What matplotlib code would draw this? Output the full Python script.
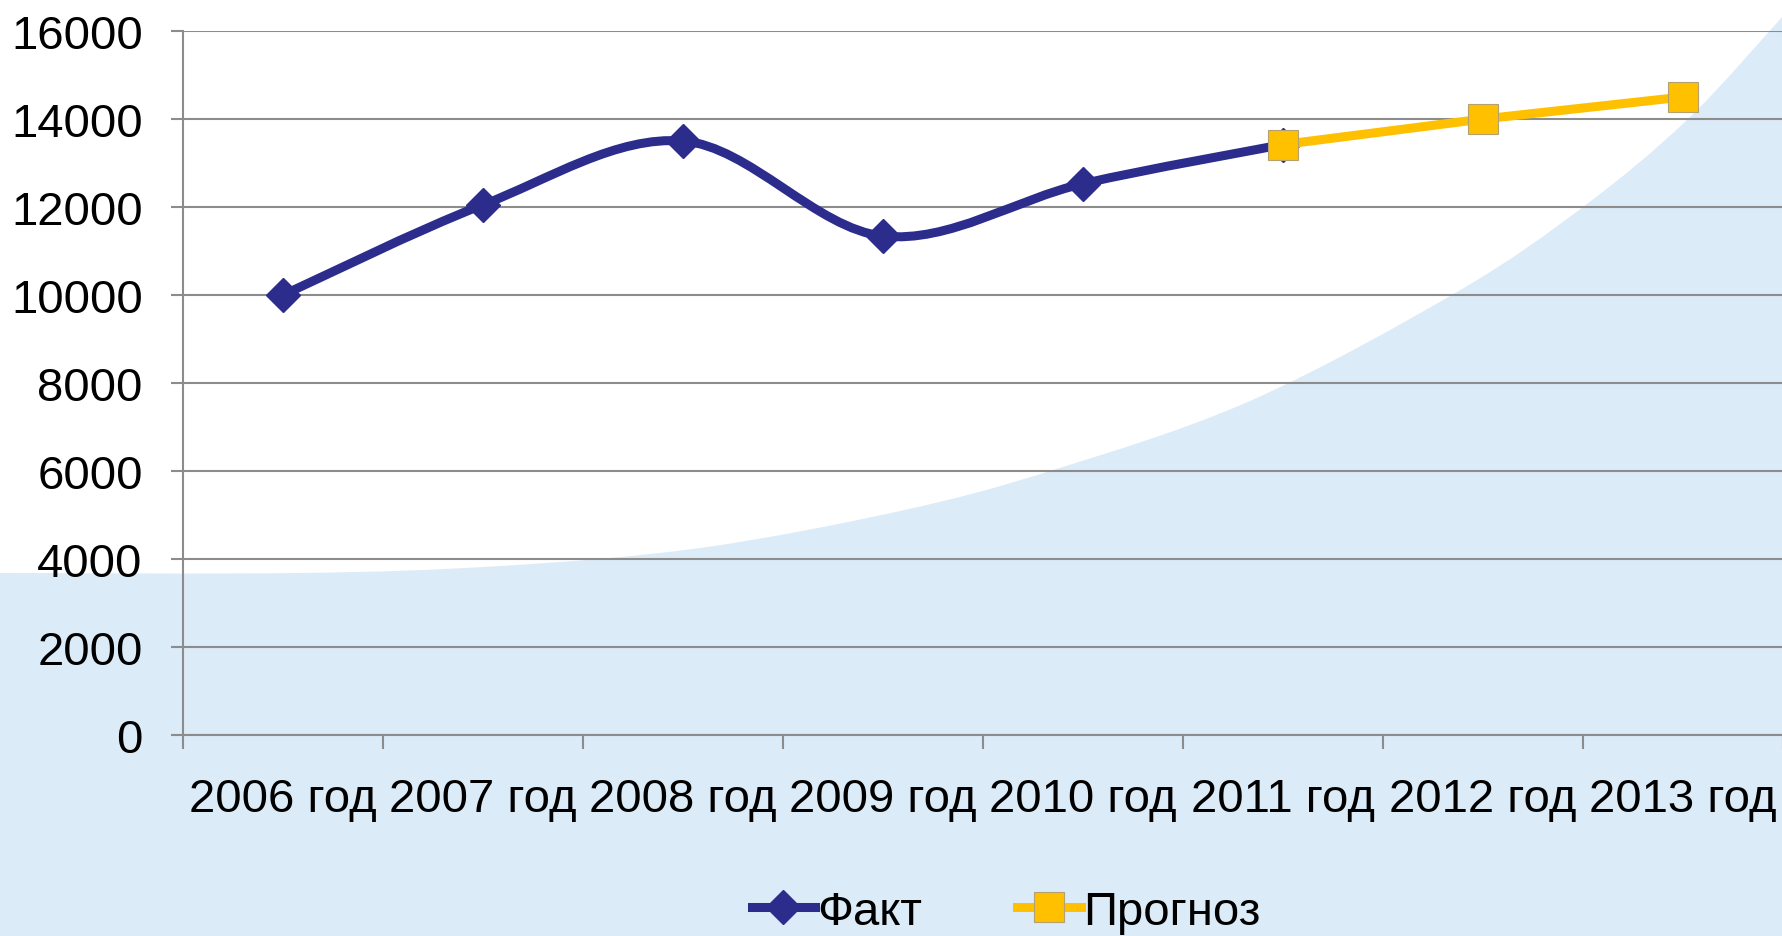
import matplotlib
matplotlib.use("Agg")
import matplotlib.pyplot as plt
from matplotlib.path import Path
from matplotlib.patches import PathPatch
from matplotlib.lines import Line2D

# данные
years = ["2006 год", "2007 год", "2008 год", "2009 год", "2010 год",
         "2011 год", "2012 год", "2013 год"]
fakt = [10000, 12050, 13500, 11340, 12530, 13420]
prognoz = [13420, 14000, 14500]
prognoz_start = 5  # 2011 год

# фоновая голубая волна (пиксели исходной картинки 1783x937)
bg_px = [0, 300, 500, 700, 900, 1050, 1250, 1457, 1583, 1688, 1783]
bg_py = [574, 574, 567, 549, 512, 472, 402, 293, 208, 120, 17]

W, H = 1783, 937
blue = "#2B2C8C"
yellow = "#FFC000"
grid = "#8C8C8C"
bgblue = "#DCEBF8"

plt.rcParams['font.family'] = ['Liberation Sans', 'DejaVu Sans']


def smooth_path(xs, ys):
    # сглаживание как в Excel: кривые Безье по Катмуллу-Рому
    n = len(xs)
    verts = [(xs[0], ys[0])]
    codes = [Path.MOVETO]
    for i in range(n - 1):
        x0, y0 = (xs[i - 1], ys[i - 1]) if i > 0 else (xs[i], ys[i])
        x1, y1 = xs[i], ys[i]
        x2, y2 = xs[i + 1], ys[i + 1]
        x3, y3 = (xs[i + 2], ys[i + 2]) if i + 2 < n else (x2, y2)
        verts += [(x1 + (x2 - x0) / 6, y1 + (y2 - y0) / 6),
                  (x2 - (x3 - x1) / 6, y2 - (y3 - y1) / 6),
                  (x2, y2)]
        codes += [Path.CURVE4] * 3
    return verts, codes


fig = plt.figure(figsize=(W / 100, H / 100), dpi=100)
fig.patch.set_facecolor("white")

# фон
fx = [p / W for p in bg_px]
fy = [1 - p / H for p in bg_py]
v, c = smooth_path(fx, fy)
v += [(1, 0), (0, 0), (fx[0], fy[0])]
c += [Path.LINETO, Path.LINETO, Path.CLOSEPOLY]
fig.add_artist(PathPatch(Path(v, c), facecolor=bgblue, edgecolor="none",
                         transform=fig.transFigure, zorder=-5))

ax = fig.add_axes([183 / W, 1 - 736 / H, 1600 / W, 704 / H])
ax.set_facecolor("none")

x_f = list(range(len(fakt)))
v, c = smooth_path(x_f, fakt)
ax.add_patch(PathPatch(Path(v, c), facecolor="none", edgecolor=blue,
                       lw=6.5, capstyle="round", zorder=3))
ax.plot(x_f, fakt, linestyle="none", marker="D", ms=17, color=blue, zorder=4)

x_p = list(range(prognoz_start, prognoz_start + len(prognoz)))
ax.plot(x_p, prognoz, color=yellow, lw=6.5, marker="s", ms=21,
        markeredgecolor="#B5A070", markeredgewidth=0.8, zorder=5)

ax.set_xlim(-0.5, len(years) - 0.5)
ax.set_ylim(0, 16000)
ax.set_yticks(range(0, 16001, 2000))
ax.yaxis.grid(True, color=grid, lw=1.5)
ax.set_axisbelow(True)

ax.set_xticks([i - 0.5 for i in range(len(years) + 1)])
ax.set_xticklabels([])
ax.set_xticks(range(len(years)), minor=True)
ax.set_xticklabels(years, minor=True)
ax.tick_params(axis="x", which="major", length=10, width=1.5, color=grid)
ax.tick_params(axis="x", which="minor", length=0, pad=30, labelsize=34)
ax.tick_params(axis="y", length=9, width=1.5, color=grid, pad=20, labelsize=34)

for s in ["top", "right"]:
    ax.spines[s].set_visible(False)
for s in ["left", "bottom"]:
    ax.spines[s].set_color(grid)
    ax.spines[s].set_linewidth(1.5)

handles = [Line2D([], [], color=blue, lw=6.5, marker="D", ms=17),
           Line2D([], [], color=yellow, lw=6.5, marker="s", ms=21,
                  markeredgecolor="#B5A070", markeredgewidth=0.8)]
fig.legend(handles, ["Факт", "Прогноз"], loc="center",
           bbox_to_anchor=(1006 / W, 1 - 913 / H), ncol=2, frameon=False,
           fontsize=34, handlelength=1.35, handletextpad=0.05,
           columnspacing=2.0, numpoints=1)

fig.savefig("out.png", dpi=100)
